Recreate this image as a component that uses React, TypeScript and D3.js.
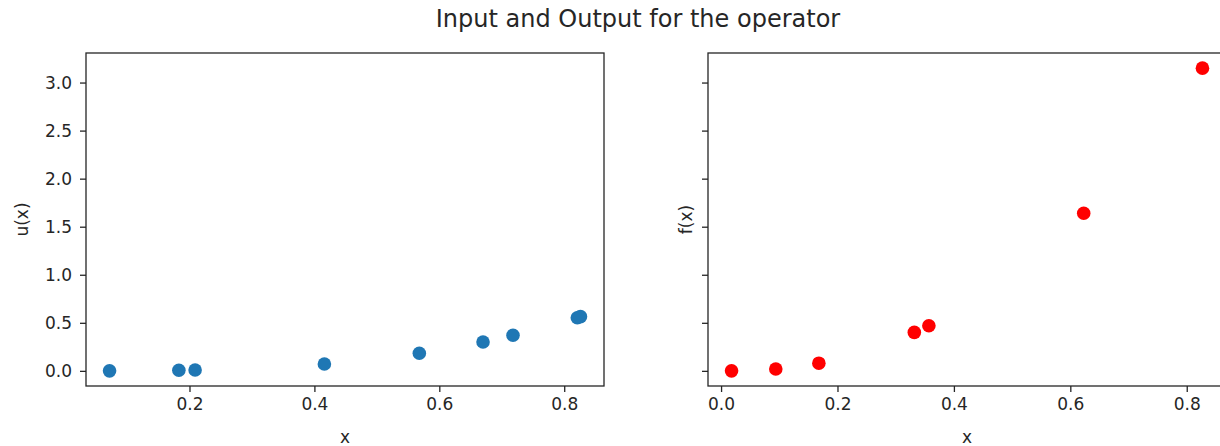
import React, { useEffect, useRef } from 'react';
import * as d3 from 'd3';

// samples of u(x) (left) and f(x) (right)
const uX = [0.072, 0.183, 0.209, 0.416, 0.568, 0.67, 0.718, 0.821, 0.826];
const uY = [0.0004, 0.006, 0.009, 0.072, 0.183, 0.301, 0.37, 0.553, 0.564];
const fX = [0.018, 0.094, 0.168, 0.332, 0.357, 0.623, 0.827];
const fY = [0.0, 0.02, 0.08, 0.4, 0.47, 1.64, 3.15];

const leftXTicks = [0.2, 0.4, 0.6, 0.8];
const rightXTicks = [0.0, 0.2, 0.4, 0.6, 0.8];
const yTicks = [0.0, 0.5, 1.0, 1.5, 2.0, 2.5, 3.0];

const FONT = 'DejaVu Sans, sans-serif';

// matplotlib-style 5% padding around the data
const padded = (vals: number[]) => {
  const lo = d3.min(vals) as number;
  const hi = d3.max(vals) as number;
  const m = (hi - lo) * 0.05;
  return [lo - m, hi + m];
};

const App = () => {
  const svgRef = useRef<SVGSVGElement>(null);

  useEffect(() => {
    const width = 1220;
    const height = 446;
    const top = 53;
    const bottom = 386;
    const panels = [
      { left: 86, right: 604, xs: uX, ys: uY, ticks: leftXTicks, color: '#1f77b4', label: 'u(x)', showY: true },
      { left: 708, right: 1226, xs: fX, ys: fY, ticks: rightXTicks, color: '#ff0000', label: 'f(x)', showY: false },
    ];

    const svg = d3.select(svgRef.current);
    svg.selectAll('*').remove();
    svg.attr('width', width).attr('height', height);

    const yScale = d3
      .scaleLinear()
      .domain(padded([...uY, ...fY]))
      .range([bottom, top]);

    svg.append('text')
      .attr('x', 638)
      .attr('y', 27)
      .attr('text-anchor', 'middle')
      .attr('font-family', FONT)
      .attr('font-size', 24)
      .attr('fill', '#262626')
      .text('Input and Output for the operator');

    panels.forEach(p => {
      const xScale = d3.scaleLinear().domain(padded(p.xs)).range([p.left, p.right]);
      const g = svg.append('g');

      // points
      g.selectAll('circle')
        .data(p.xs.map((x, i) => ({ x, y: p.ys[i] })))
        .enter()
        .append('circle')
        .attr('cx', d => xScale(d.x))
        .attr('cy', d => yScale(d.y))
        .attr('r', 6.8)
        .attr('fill', p.color);

      // x axis
      const xa = g.append('g')
        .attr('transform', `translate(0, ${bottom})`)
        .call(d3.axisBottom(xScale).tickValues(p.ticks).tickFormat(d3.format('.1f')).tickSize(6).tickPadding(6).tickSizeOuter(0));
      xa.select('.domain').remove();

      // y axis
      const ya = g.append('g')
        .attr('transform', `translate(${p.left}, 0)`)
        .call(d3.axisLeft(yScale).tickValues(yTicks).tickFormat(p.showY ? d3.format('.1f') : () => '').tickSize(6).tickPadding(8).tickSizeOuter(0));
      ya.select('.domain').remove();

      g.selectAll('.tick line').attr('stroke', '#262626').attr('stroke-width', 1.3);
      g.selectAll('.tick text').attr('font-family', FONT).attr('font-size', 17).attr('fill', '#262626');

      // frame
      g.append('rect')
        .attr('x', p.left)
        .attr('y', top)
        .attr('width', p.right - p.left)
        .attr('height', bottom - top)
        .attr('fill', 'none')
        .attr('stroke', '#262626')
        .attr('stroke-width', 1.3);

      g.append('text')
        .attr('x', (p.left + p.right) / 2)
        .attr('y', 443)
        .attr('text-anchor', 'middle')
        .attr('font-family', FONT)
        .attr('font-size', 17)
        .attr('fill', '#262626')
        .text('x');

      g.append('text')
        .attr('transform', `translate(${p.showY ? 28 : 692}, ${(top + bottom) / 2}) rotate(-90)`)
        .attr('text-anchor', 'middle')
        .attr('font-family', FONT)
        .attr('font-size', 17)
        .attr('fill', '#262626')
        .text(p.label);
    });
  }, []);

  return <svg ref={svgRef} style={{ position: 'absolute', left: 0, top: 0 }} />;
};

export default App;
